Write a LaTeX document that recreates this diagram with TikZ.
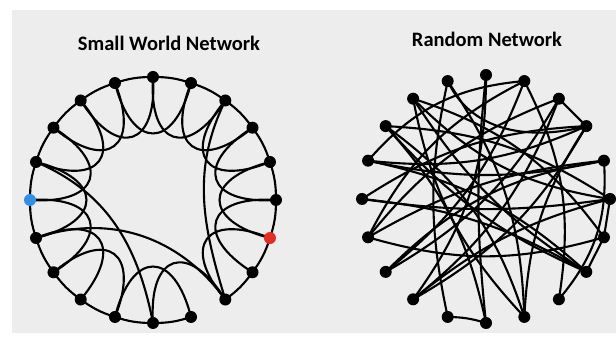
\documentclass[tikz,border=0pt]{standalone}
\usepackage{fontspec}
\setmainfont{Carlito}
\definecolor{bg}{RGB}{237,237,237}
\definecolor{nodeblue}{RGB}{52,140,228}
\definecolor{nodered}{RGB}{226,44,36}
\pgfdeclarelayer{back}
\pgfdeclarelayer{edges}
\pgfsetlayers{back,edges,main}
\tikzset{
  dot/.style={circle,fill=black,inner sep=0pt,minimum size=0.36cm},
  link/.style={line width=1.8pt,black},
  title/.style={font=\bfseries\fontsize{17.5}{20}\selectfont}
}
\begin{document}
\begin{tikzpicture}[x=0.03cm,y=0.03cm]
\useasboundingbox (0,0) rectangle (616,341);
\begin{pgfonlayer}{back}
\fill[bg] (12,8) rectangle (616,331);
\end{pgfonlayer}
\node[title] (t1) at (169,298) {Small World Network};
\node[title] (t2) at (487,302) {Random Network};
% ---------- small world ----------
\begin{scope}[shift={(153,141)}]
\foreach \i/\c in {0/black,1/black,2/black,3/black,4/black,5/black,6/black,7/black,8/black,9/black,10/nodeblue,11/black,12/black,13/black,14/black,15/black,16/black,17/black,18/black,19/nodered}
  \node[dot,fill=\c] (s\i) at (\i*18:123) {};
\begin{pgfonlayer}{edges}
\foreach \i in {0,...,15,17,18,19}{
  \pgfmathtruncatemacro\j{mod(\i+1,20)}
  \draw[link] (s\i.center) to[bend right=9] (s\j.center);
}
\foreach \i in {0,...,12,14,15,17,18,19}{
  \pgfmathtruncatemacro\j{mod(\i+2,20)}
  \draw[link] (s\i.center) .. controls (\i*18-5:54) and (\i*18+41:54) .. (s\j.center);
}
\draw[link] (s9.center) to[out=-23,in=101] (s15.center);
\draw[link] (s11.center) to[out=19,in=126] (s17.center);
\draw[link] (s3.center) to[out=-116,in=107] (s17.center);
\end{pgfonlayer}
\end{scope}
% ---------- random ----------
\begin{scope}[shift={(486,142)}]
\foreach \i in {0,...,19}
  \node[dot] (r\i) at (\i*18:124) {};
\begin{pgfonlayer}{edges}
\foreach \a/\b/\c in {3/2/0,0/19/0,19/18/0,14/15/8,
  5/13/18,5/15/-6,6/16/16,4/17/18,4/11/-18,4/12/15,4/9/-22,3/13/15,
  7/16/-16,7/19/18,7/0/-18,8/0/15,8/18/-12,8/16/18,9/1/-12,9/18/15,
  10/0/-8,10/2/15,11/19/-16,11/1/12,12/3/-15,12/1/18,13/2/-15,14/6/12,
  17/1/-22,16/2/15,10/18/12,15/8/-15,9/2/-15,13/0/12,11/3/15,7/18/-12}
  \draw[link] (r\a.center) to[bend left=\c] (r\b.center);
\draw[link] (r6.center) to[out=-65,in=195] (r2.center);
\end{pgfonlayer}
\end{scope}
\end{tikzpicture}
\end{document}
